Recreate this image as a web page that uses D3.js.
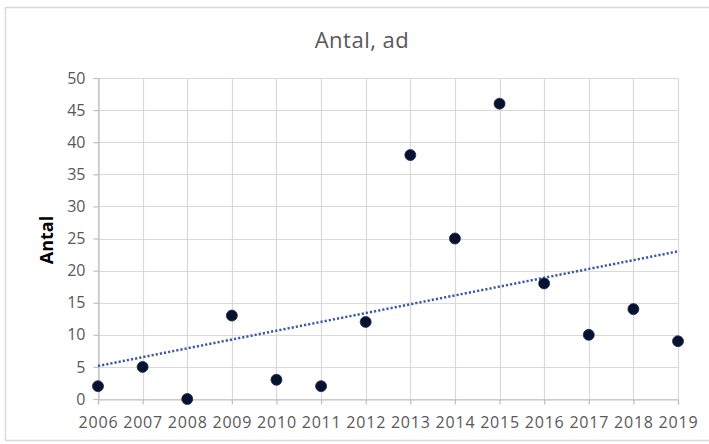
<!DOCTYPE html>
<html>
<head>
<meta charset="utf-8">
<script src="https://cdn.jsdelivr.net/npm/d3@7"></script>
<style>
  html, body { margin: 0; padding: 0; background: #fff; }
  svg { display: block; }
</style>
</head>
<body>
<svg id="chart" width="709" height="444"></svg>
<script>
// Yearly counts
const years = [2006, 2007, 2008, 2009, 2010, 2011, 2012, 2013, 2014, 2015, 2016, 2017, 2018, 2019];
const counts = [2, 5, 0, 13, 3, 2, 12, 38, 25, 46, 18, 10, 14, 9];
const yTicks = [0, 5, 10, 15, 20, 25, 30, 35, 40, 45, 50];
const titleText = "Antal, ad";
const yAxisTitle = "Antal";

const svg = d3.select("#chart");
const W = 709, H = 444;
const margin = { left: 98, right: 31, top: 78, bottom: 45 };
const font = "'Open Sans', 'Liberation Sans', sans-serif";
const grid = "#d9d9d9";
const textGrey = "#595959";

// chart frame
svg.append("rect")
  .attr("x", 5.5).attr("y", 7.5)
  .attr("width", W + 10).attr("height", 433)
  .attr("fill", "#fff").attr("stroke", "#d9d9d9").attr("stroke-width", 1.5);

const x = d3.scaleLinear()
  .domain([d3.min(years), d3.max(years)])
  .range([margin.left, W - margin.right]);
const y = d3.scaleLinear()
  .domain([0, 50])
  .range([H - margin.bottom, margin.top]);

// gridlines
svg.append("g")
  .selectAll("line.h").data(yTicks).join("line")
  .attr("x1", margin.left).attr("x2", W - margin.right)
  .attr("y1", d => Math.round(y(d)) + 0.5).attr("y2", d => Math.round(y(d)) + 0.5)
  .attr("stroke", grid).attr("stroke-width", 1.2);
svg.append("g")
  .selectAll("line.v").data(years).join("line")
  .attr("y1", y(50)).attr("y2", y(0))
  .attr("x1", d => Math.round(x(d)) + 0.5).attr("x2", d => Math.round(x(d)) + 0.5)
  .attr("stroke", grid).attr("stroke-width", 1.2);

// axes
const yAxis = svg.append("g")
  .attr("transform", `translate(${margin.left + 0.5},0)`)
  .call(d3.axisLeft(y).tickValues(yTicks).tickSize(5).tickPadding(8));
const xAxis = svg.append("g")
  .attr("transform", `translate(0,${Math.round(y(0)) + 0.5})`)
  .call(d3.axisBottom(x).tickValues(years).tickFormat(d3.format("d")).tickSize(5).tickPadding(12));
[yAxis, xAxis].forEach(g => {
  g.selectAll("path.domain").attr("stroke", "#bfbfbf").attr("stroke-width", 1.2);
  g.selectAll(".tick line").attr("stroke", "#bfbfbf").attr("stroke-width", 1.2);
  g.selectAll("text")
    .attr("fill", textGrey)
    .style("font-family", font)
    .style("font-size", "16px");
});
xAxis.selectAll("text").style("letter-spacing", "0.8px");

// linear trend line (least squares)
const mx = d3.mean(years), my = d3.mean(counts);
const slope = d3.sum(years, (d, i) => (d - mx) * (counts[i] - my)) /
              d3.sum(years, d => (d - mx) * (d - mx));
const intercept = my - slope * mx;
const ends = [d3.min(years), d3.max(years)];
svg.append("line")
  .attr("x1", x(ends[0])).attr("y1", y(intercept + slope * ends[0]))
  .attr("x2", x(ends[1])).attr("y2", y(intercept + slope * ends[1]))
  .attr("stroke", "#3b5aa8").attr("stroke-width", 2.5)
  .attr("stroke-dasharray", "2.2,2");

// points
svg.append("g")
  .selectAll("circle").data(years).join("circle")
  .attr("cx", d => x(d))
  .attr("cy", (d, i) => y(counts[i]))
  .attr("r", 5.5)
  .attr("fill", "#07122e")
  .attr("stroke", "#1c2c5a").attr("stroke-width", 0.8);

// title
svg.append("text")
  .attr("x", 362).attr("y", 48)
  .attr("text-anchor", "middle")
  .attr("fill", textGrey)
  .style("font-family", font)
  .style("font-size", "22px")
  .style("letter-spacing", "0.5px")
  .text(titleText);

// y-axis title
svg.append("text")
  .attr("transform", "translate(53,240) rotate(-90)")
  .attr("text-anchor", "middle")
  .attr("fill", "#000")
  .style("font-family", font)
  .style("font-size", "18px")
  .style("font-weight", "bold")
  .text(yAxisTitle);
</script>
</body>
</html>
